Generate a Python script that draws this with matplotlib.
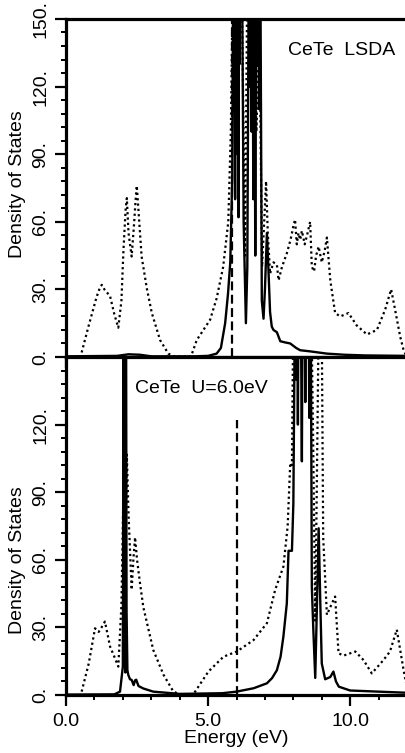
import matplotlib
matplotlib.use("Agg")
import matplotlib.pyplot as plt
from matplotlib.ticker import MultipleLocator, FixedLocator

plt.rcParams['font.family'] = ['Liberation Sans', 'DejaVu Sans']

# CeTe LSDA (upper panel)
lsda_e_solid = [0, 1.8, 2.2, 2.6, 3.0, 4.5, 5.0, 5.3, 5.45, 5.6, 5.7, 5.78, 5.85,
                5.89, 5.91, 5.93, 5.95, 5.97, 5.99, 6.01, 6.03, 6.05, 6.07, 6.09,
                6.11, 6.13, 6.15, 6.18, 6.25, 6.33, 6.38, 6.44, 6.47, 6.5, 6.53,
                6.56, 6.59, 6.62, 6.66, 6.7, 6.73, 6.76, 6.79, 6.83, 6.89, 6.95, 7.0,
                7.07, 7.12, 7.18, 7.24, 7.3, 7.42, 7.54, 7.7, 7.89, 8.1, 8.24, 8.59,
                9.18, 9.8, 10.5, 12]
lsda_solid = [0.3, 0.5, 1.2, 1.0, 0.3, 0.3, 0.5, 1.5, 4, 15, 28, 42, 80,
              200, 110, 200, 70, 200, 140, 200, 90, 200, 62, 200,
              130, 200, 160, 200, 60, 15, 40, 200, 120, 200, 100,
              200, 70, 200, 45, 200, 130, 200, 110, 200, 25, 17, 30,
              55, 40, 20, 13.5, 12, 11, 7, 6.5, 6, 4, 3, 2.5,
              1.5, 1, 0.7, 0.5]

lsda_e_dot = [0.55, 0.8, 1.08, 1.2, 1.26, 1.35, 1.55, 1.7, 1.84, 1.95, 2.02, 2.1, 2.14,
              2.2, 2.31, 2.4, 2.45, 2.49, 2.55, 2.66, 2.85, 3.02, 3.31, 3.6, 3.8, 4.4,
              4.6, 5.07, 5.3, 5.53, 5.71, 5.8, 5.9, 6.0, 6.1, 6.2, 6.3, 6.4, 6.5, 6.6,
              6.7, 6.8, 6.9, 7.04, 7.1, 7.18, 7.3, 7.42, 7.48, 7.6, 7.77, 7.9, 8.0,
              8.06, 8.12, 8.18, 8.24, 8.3, 8.4, 8.5, 8.59, 8.65, 8.73, 8.8, 8.89, 9.0,
              9.1, 9.18, 9.3, 9.47, 9.65, 9.94, 10.23, 10.59, 10.94, 11.23, 11.44,
              11.58, 11.76, 11.88, 12.0]
lsda_dot = [2, 14, 26.8, 31, 32, 30, 27, 19, 13, 25, 47, 66, 70.5,
            55, 44.6, 60, 70, 76, 65, 44.6, 30, 19.5, 7.5, 1.5, 0.3, 0.3,
            7.5, 16.5, 26, 40, 60, 100, 200, 130, 200, 150, 45, 200, 120, 200,
            100, 150, 40, 78, 55, 37, 42, 41, 34, 40, 46, 52, 58,
            61, 50, 55, 52, 56, 50, 55, 60, 40, 38, 45, 49, 42,
            47, 53, 34, 19.5, 18, 19.5, 14, 10, 12, 21, 30,
            21, 9, 3, 0]
lsda_fermi = 5.85

# CeTe U=6.0eV (lower panel)
u6_e_solid = [0, 1.7, 1.9, 2.0, 2.03, 2.05, 2.07, 2.09, 2.11, 2.13, 2.16, 2.19, 2.25,
              2.31, 2.38, 2.43, 2.47, 2.55, 2.72, 3.07, 4.0, 5.5, 6.0, 6.6, 7.07, 7.25,
              7.42, 7.55, 7.65, 7.77, 7.83, 7.95, 8.0, 8.07, 8.1, 8.13, 8.16, 8.19,
              8.22, 8.25, 8.3, 8.33, 8.36, 8.39, 8.42, 8.45, 8.48, 8.53, 8.56, 8.59,
              8.62, 8.65, 8.7, 8.77, 8.83, 8.89, 8.95, 9.0, 9.12, 9.3, 9.41, 9.5,
              9.6, 10.0, 11, 12]
u6_solid = [0.2, 0.3, 1.5, 12.6, 200, 20, 200, 10, 200, 37.8, 11, 9, 7,
            6.7, 4.4, 6.5, 6.8, 4, 2.9, 1.5, 0.5, 0.8, 1.5, 3, 5.2, 7.5,
            11, 17, 26, 40.7, 64, 64, 85, 200, 140, 200, 120, 200,
            150, 200, 103.7, 200, 160, 200, 130, 200, 170, 200, 123, 200,
            150, 48, 30, 7.6, 40, 74, 40, 14, 7, 8, 10.4, 6,
            3.7, 2, 1.5, 1]

u6_e_dot = [0.55, 0.8, 1.02, 1.15, 1.25, 1.37, 1.55, 1.7, 1.84, 1.95, 2.02, 2.08, 2.14,
            2.2, 2.31, 2.37, 2.43, 2.5, 2.6, 2.72, 3.07, 3.43, 3.78, 4.0, 4.48, 5.01,
            5.54, 6.01, 6.6, 7.07, 7.36, 7.65, 7.8, 7.89, 7.95, 8.02, 8.1, 8.2, 8.3,
            8.4, 8.5, 8.6, 8.7, 8.77, 8.85, 8.92, 8.98, 9.05, 9.18, 9.36, 9.47, 9.59,
            9.77, 10.18, 10.47, 10.76, 11.17, 11.4, 11.64, 11.76, 11.88, 12.0]
u6_dot = [1.5, 14, 29.6, 28, 30, 32.6, 21.5, 17, 12.6, 40, 90, 60, 106.7,
          80, 46.7, 60, 70, 60, 50, 39, 20, 9, 1.5, 0.3, 0.3, 10.4,
          17, 19.3, 24.4, 31.9, 46.7, 57, 75, 103, 102, 200, 140, 200, 150,
          200, 160, 200, 110, 33, 120, 200, 200, 70, 35.6, 40.7, 43.7, 18.5,
          17.5, 19.3, 15.5, 9.6, 15.5, 19.3, 29, 20, 11, 3]
u6_fermi = 6.0
u6_fermi_top = 122

top_yticks = [0, 30, 60, 90, 120, 150]
bot_yticks = [0, 30, 60, 90, 120]
xticks = [0, 5, 10]


def style_axes(ax, yticks):
    ax.set_xlim(0, 12)
    ax.set_ylim(0, 150)
    for s in ax.spines.values():
        s.set_linewidth(2.3)
    ax.xaxis.set_major_locator(FixedLocator(xticks))
    ax.xaxis.set_minor_locator(MultipleLocator(1))
    ax.yaxis.set_major_locator(FixedLocator(yticks))
    ax.yaxis.set_minor_locator(MultipleLocator(6))
    ax.tick_params(which='major', direction='out', length=8, width=1.6, labelsize=14)
    ax.tick_params(which='minor', direction='out', length=3.5, width=1.4)
    ax.tick_params(axis='y', which='both', right=False)
    ax.tick_params(axis='x', which='both', top=False)
    ax.set_yticklabels(['%d.' % v for v in yticks], rotation=90, va='center')
    ax.tick_params(axis='y', pad=4)


def draw_panel(ax, e_dot, dot, e_sol, sol, ef, ef_top):
    ax.plot(e_dot, dot, color='black', lw=1.6, linestyle=(0, (1, 1.4)))
    ax.plot(e_sol, sol, color='black', lw=1.7)
    ax.plot([ef, ef], [0, ef_top], color='black', lw=1.6, linestyle=(0, (4, 2)))


fig = plt.figure(figsize=(4.05, 7.53), dpi=100)
ax1 = fig.add_axes([0.163, 0.5259, 0.842, 0.4489])
ax2 = fig.add_axes([0.163, 0.0770, 0.842, 0.4489])

draw_panel(ax1, lsda_e_dot, lsda_dot, lsda_e_solid, lsda_solid, lsda_fermi, 150)
draw_panel(ax2, u6_e_dot, u6_dot, u6_e_solid, u6_solid, u6_fermi, u6_fermi_top)

style_axes(ax1, top_yticks)
style_axes(ax2, bot_yticks)
ax1.set_xticklabels([])
ax2.set_xticklabels(['0.0', '5.0', '10.0'])
ax2.tick_params(axis='x', pad=5)

ax1.text(7.82, 136, 'CeTe  LSDA', fontsize=14, va='center')
ax2.text(2.43, 136, 'CeTe  U=6.0eV', fontsize=14, va='center')

ax1.set_ylabel('Density of States', fontsize=14)
ax2.set_ylabel('Density of States', fontsize=14)
ax1.yaxis.set_label_coords(-0.117, 0.512)
ax2.yaxis.set_label_coords(-0.117, 0.40)
ax2.set_xlabel('Energy (eV)', fontsize=14, labelpad=0)

plt.savefig('out.png', dpi=100)
